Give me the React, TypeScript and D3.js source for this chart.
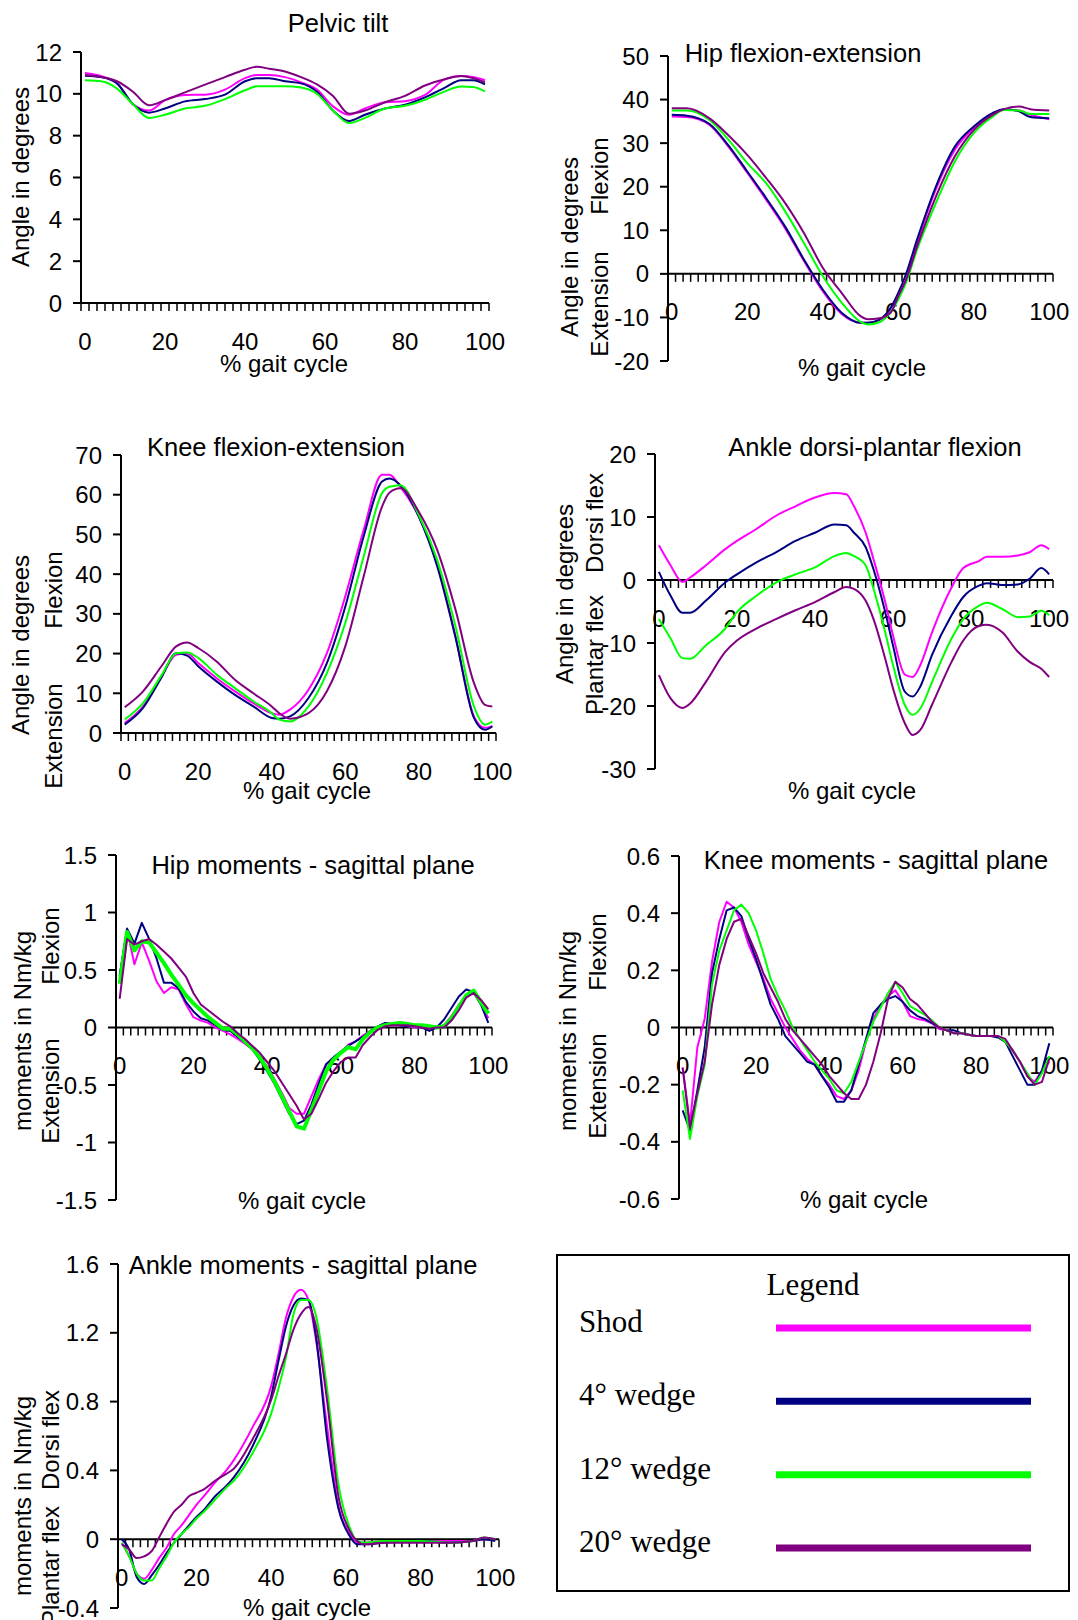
import React from 'react';
import * as d3 from 'd3';

// ---------- Legend / series ----------
const seriesNames = ['Shod', '4\u00b0 wedge', '12\u00b0 wedge', '20\u00b0 wedge'];
const seriesColors = ['#ff00ff', '#000080', '#00ff00', '#800080'];
const xTickLabels = [0, 20, 40, 60, 80, 100];

// ---------- Pelvic tilt ----------
const pelvicX = [0, 4, 8, 12, 16, 20, 25, 30, 35, 40, 43, 46, 50, 54, 58, 62, 66, 70, 75, 80, 85, 90, 94, 97, 100];
const pelvicShod = [11.0, 10.85, 10.5, 9.5, 9.2, 9.7, 9.95, 9.96, 10.2, 10.75, 10.9, 10.9, 10.8, 10.55, 10.2, 9.4, 9.0, 9.3, 9.6, 9.65, 9.95, 10.7, 10.85, 10.8, 10.65];
const pelvic4 = [10.87, 10.8, 10.5, 9.5, 9.1, 9.3, 9.64, 9.75, 9.96, 10.6, 10.75, 10.75, 10.6, 10.5, 10.1, 9.2, 8.7, 9.0, 9.3, 9.48, 9.83, 10.3, 10.65, 10.65, 10.45];
const pelvic12 = [10.65, 10.6, 10.25, 9.5, 8.85, 9.0, 9.3, 9.43, 9.75, 10.17, 10.36, 10.36, 10.36, 10.3, 10.0, 9.2, 8.6, 8.85, 9.3, 9.43, 9.72, 10.12, 10.35, 10.33, 10.12];
const pelvic20 = [10.9, 10.8, 10.6, 10.1, 9.45, 9.7, 10.07, 10.44, 10.8, 11.15, 11.3, 11.2, 11.07, 10.8, 10.45, 9.9, 9.05, 9.2, 9.6, 9.9, 10.4, 10.7, 10.85, 10.75, 10.55];
const pelvicTicks = [0, 2, 4, 6, 8, 10, 12];

// ---------- Hip flexion-extension ----------
const hipX = [0, 4, 10, 15, 20, 25, 30, 35, 40, 45, 50, 52, 55, 58, 60, 62, 65, 70, 75, 80, 85, 88, 92, 95, 100];
const hipShod = [36.1, 36.0, 34.2, 29.2, 23.2, 17.0, 10.5, 3.0, -4.0, -9.2, -11.2, -11.2, -10.6, -8.5, -5.5, -1.5, 7.2, 19.5, 28.5, 33.5, 36.8, 37.7, 37.5, 36.5, 35.5];
const hip4 = [36.5, 36.3, 34.4, 29.5, 23.5, 17.4, 10.9, 3.3, -3.6, -8.9, -11.2, -11.2, -10.5, -7.8, -4.4, -0.2, 7.9, 20.1, 29.2, 33.8, 36.9, 37.8, 37.3, 36.0, 35.7];
const hip12 = [37.5, 37.5, 35.3, 30.8, 25.4, 20.8, 14.4, 7.1, -0.5, -6.6, -11.0, -11.6, -11.1, -8.8, -5.9, -2.1, 5.6, 16.3, 25.8, 32.3, 36.1, 37.6, 37.5, 36.7, 36.7];
const hip20 = [38.0, 38.0, 35.7, 31.8, 27.3, 22.0, 16.3, 9.4, 1.4, -4.35, -9.7, -10.4, -10.2, -8.9, -5.1, -1.5, 6.3, 17.8, 27.0, 33.0, 36.5, 37.8, 38.4, 37.8, 37.5];
const hipTicks = [-20, -10, 0, 10, 20, 30, 40, 50];

// ---------- Knee flexion-extension ----------
const kneeX = [0, 5, 10, 14, 17, 20, 25, 30, 35, 40, 42, 45, 50, 55, 60, 65, 70, 72, 75, 80, 85, 90, 95, 98, 100];
const kneeShod = [2.5, 6.7, 14.2, 19.7, 20.0, 17.6, 13.8, 10.5, 7.5, 5.0, 4.6, 5.9, 10.9, 20.1, 34.4, 51.1, 65.0, 65.0, 62.0, 54.5, 42.7, 24.3, 4.2, 1.3, 1.7];
const knee4 = [2.1, 6.3, 14.0, 20.1, 19.5, 16.8, 13.0, 9.6, 6.7, 3.8, 3.6, 4.2, 8.8, 17.6, 31.8, 49.5, 63.3, 64.1, 62.4, 54.5, 42.0, 24.0, 3.8, 0.8, 1.7];
const knee12 = [3.4, 7.5, 14.5, 20.1, 20.3, 18.9, 14.7, 11.3, 8.0, 5.0, 3.4, 2.9, 6.7, 15.1, 27.7, 44.4, 60.4, 62.0, 62.4, 54.9, 43.6, 26.8, 6.7, 2.1, 2.9];
const knee20 = [6.5, 10.5, 16.8, 21.8, 22.8, 21.4, 18.0, 13.4, 10.0, 6.7, 5.0, 3.6, 5.0, 10.5, 21.8, 39.4, 57.0, 60.5, 61.6, 55.7, 46.1, 31.0, 12.6, 7.1, 6.7];
const kneeTicks = [0, 10, 20, 30, 40, 50, 60, 70];

// ---------- Ankle dorsi-plantar flexion ----------
const ankleX = [0, 3, 6, 8, 12, 17, 20, 25, 30, 35, 40, 45, 48, 50, 53, 55, 58, 60, 63, 65, 67, 70, 75, 78, 82, 84, 88, 92, 95, 98, 100];
const ankleShod = [5.5, 2.3, -0.3, 0.4, 2.3, 4.9, 6.2, 8.1, 10.2, 11.7, 13.1, 13.8, 13.6, 11.7, 7.5, 3.3, -3.5, -8.8, -15.0, -15.4, -13.5, -8.3, -1.2, 1.9, 3.0, 3.7, 3.7, 3.9, 4.4, 5.5, 4.9];
const ankle4 = [1.3, -2.5, -5.2, -5.2, -3.3, -0.4, 0.9, 2.8, 4.4, 6.2, 7.5, 8.8, 8.7, 7.5, 5.2, 1.7, -5.1, -10.4, -17.7, -18.5, -16.9, -11.9, -5.6, -2.7, -0.9, -0.5, -0.8, -0.7, 0.2, 1.9, 0.9];
const ankle12 = [-6.2, -9.3, -12.4, -12.5, -10.4, -7.7, -5.1, -2.5, -0.4, 0.9, 2.0, 3.8, 4.3, 3.8, 2.3, -1.4, -8.3, -13.5, -19.8, -21.4, -20.4, -16.2, -9.3, -6.2, -4.1, -3.6, -4.6, -5.9, -5.8, -4.9, -5.6];
const ankle20 = [-15.1, -18.8, -20.3, -19.6, -16.2, -11.4, -9.6, -7.7, -6.2, -4.8, -3.5, -1.9, -1.1, -1.4, -3.3, -6.2, -12.5, -17.2, -22.7, -24.6, -23.8, -19.8, -13.0, -9.6, -7.3, -7.1, -8.3, -11.4, -13.0, -14.1, -15.4];
const ankleTicks = [-30, -20, -10, 0, 10, 20];

// ---------- Hip moments ----------
const hipMomX = [0, 2, 4, 6, 8, 10, 12, 14, 16, 18, 20, 22, 24, 26, 28, 30, 32, 34, 36, 38, 40, 42, 44, 46, 48, 50, 52, 54, 56, 58, 60, 62, 64, 66, 68, 70, 72, 74, 76, 78, 80, 82, 84, 86, 88, 90, 92, 94, 96, 98, 100];
const hipMomShod = [0.45, 0.85, 0.55, 0.74, 0.58, 0.40, 0.30, 0.35, 0.33, 0.20, 0.09, 0.06, 0.04, 0.00, -0.03, -0.06, -0.10, -0.14, -0.19, -0.26, -0.34, -0.45, -0.57, -0.70, -0.75, -0.75, -0.60, -0.45, -0.32, -0.27, -0.22, -0.15, -0.12, -0.07, -0.03, 0.00, 0.02, 0.02, 0.02, 0.01, 0.00, 0.00, -0.01, 0.00, 0.02, 0.10, 0.20, 0.27, 0.30, 0.20, 0.08];
const hipMom4 = [0.45, 0.86, 0.73, 0.91, 0.77, 0.60, 0.39, 0.39, 0.34, 0.22, 0.14, 0.08, 0.06, 0.02, -0.02, -0.03, -0.08, -0.13, -0.19, -0.28, -0.38, -0.49, -0.62, -0.75, -0.84, -0.81, -0.67, -0.49, -0.32, -0.26, -0.21, -0.16, -0.12, -0.08, -0.03, 0.01, 0.04, 0.03, 0.02, 0.01, 0.01, 0.00, -0.03, 0.00, 0.07, 0.17, 0.27, 0.33, 0.31, 0.20, 0.04];
const hipMom12 = [0.38, 0.83, 0.67, 0.75, 0.74, 0.65, 0.56, 0.46, 0.37, 0.28, 0.21, 0.15, 0.09, 0.04, -0.01, -0.01, -0.06, -0.12, -0.18, -0.26, -0.36, -0.47, -0.60, -0.73, -0.86, -0.88, -0.72, -0.55, -0.38, -0.28, -0.22, -0.17, -0.19, -0.10, -0.04, 0.00, 0.02, 0.03, 0.04, 0.03, 0.02, 0.02, 0.01, 0.00, 0.01, 0.08, 0.18, 0.28, 0.32, 0.22, 0.12];
const hipMom20 = [0.25, 0.77, 0.72, 0.75, 0.77, 0.72, 0.66, 0.60, 0.52, 0.44, 0.30, 0.20, 0.15, 0.10, 0.05, 0.01, -0.05, -0.10, -0.16, -0.22, -0.30, -0.38, -0.48, -0.58, -0.68, -0.80, -0.75, -0.62, -0.48, -0.38, -0.30, -0.26, -0.26, -0.15, -0.08, -0.02, 0.01, 0.02, 0.02, 0.02, 0.01, 0.00, -0.01, 0.00, 0.00, 0.06, 0.15, 0.26, 0.30, 0.24, 0.16];
const hipMomTicks = [-1.5, -1, -0.5, 0, 0.5, 1, 1.5];

// ---------- Knee moments ----------
const kneeMomX = hipMomX;
const kneeMomShod = [-0.14, -0.34, -0.07, 0.03, 0.23, 0.37, 0.44, 0.42, 0.37, 0.29, 0.23, 0.17, 0.10, 0.05, 0.00, -0.04, -0.08, -0.11, -0.13, -0.17, -0.20, -0.24, -0.25, -0.22, -0.15, -0.05, 0.03, 0.08, 0.11, 0.13, 0.09, 0.04, 0.03, 0.025, 0.015, -0.005, -0.01, -0.02, -0.02, -0.025, -0.03, -0.03, -0.03, -0.03, -0.05, -0.08, -0.12, -0.17, -0.19, -0.15, -0.12];
const kneeMom4 = [-0.29, -0.36, -0.22, -0.07, 0.19, 0.31, 0.41, 0.42, 0.39, 0.31, 0.24, 0.16, 0.08, 0.03, -0.03, -0.06, -0.09, -0.12, -0.13, -0.17, -0.21, -0.26, -0.26, -0.22, -0.13, -0.04, 0.05, 0.08, 0.10, 0.11, 0.09, 0.06, 0.04, 0.03, 0.015, 0.00, -0.01, -0.01, -0.02, -0.025, -0.03, -0.03, -0.03, -0.035, -0.05, -0.10, -0.15, -0.20, -0.20, -0.15, -0.055];
const kneeMom12 = [-0.22, -0.39, -0.24, -0.13, 0.15, 0.27, 0.34, 0.41, 0.43, 0.40, 0.34, 0.26, 0.17, 0.11, 0.06, 0.00, -0.04, -0.08, -0.12, -0.15, -0.18, -0.22, -0.23, -0.19, -0.12, -0.05, 0.02, 0.07, 0.12, 0.16, 0.12, 0.075, 0.06, 0.045, 0.025, 0.00, -0.01, -0.02, -0.02, -0.025, -0.03, -0.03, -0.03, -0.03, -0.05, -0.08, -0.12, -0.16, -0.20, -0.16, -0.10];
const kneeMom20 = [-0.14, -0.35, -0.23, -0.12, 0.08, 0.22, 0.31, 0.37, 0.38, 0.32, 0.26, 0.19, 0.14, 0.09, 0.03, -0.01, -0.04, -0.07, -0.10, -0.13, -0.17, -0.20, -0.23, -0.25, -0.25, -0.20, -0.12, -0.02, 0.10, 0.16, 0.14, 0.10, 0.08, 0.05, 0.02, 0.00, -0.01, -0.02, -0.02, -0.025, -0.03, -0.03, -0.03, -0.03, -0.04, -0.08, -0.12, -0.17, -0.20, -0.19, -0.11];
const kneeMomTicks = [-0.6, -0.4, -0.2, 0, 0.2, 0.4, 0.6];

// ---------- Ankle moments ----------
const ankleMomX = [0, 2, 4, 6, 8, 10, 12, 14, 16, 18, 20, 22, 25, 28, 30, 35, 40, 42, 44, 46, 48, 50, 52, 55, 58, 61, 63, 65, 70, 80, 88, 94, 97, 100];
const ankleMomShod = [-0.02, -0.10, -0.20, -0.23, -0.18, -0.11, -0.05, 0.03, 0.08, 0.14, 0.20, 0.25, 0.33, 0.40, 0.46, 0.65, 0.89, 1.08, 1.29, 1.41, 1.45, 1.39, 1.16, 0.65, 0.19, 0.03, -0.02, -0.02, -0.01, -0.01, -0.01, -0.01, 0.00, 0.00];
const ankleMom4 = [0.00, -0.06, -0.22, -0.26, -0.21, -0.15, -0.08, -0.02, 0.03, 0.08, 0.13, 0.17, 0.25, 0.31, 0.36, 0.54, 0.83, 1.04, 1.24, 1.36, 1.40, 1.39, 1.18, 0.58, 0.18, 0.02, -0.03, -0.03, -0.02, -0.01, -0.02, -0.01, 0.00, -0.01];
const ankleMom12 = [-0.02, -0.10, -0.20, -0.24, -0.24, -0.17, -0.10, -0.02, 0.03, 0.07, 0.12, 0.16, 0.23, 0.30, 0.34, 0.50, 0.73, 0.88, 1.06, 1.31, 1.39, 1.39, 1.30, 0.87, 0.32, 0.07, -0.01, -0.02, -0.01, -0.01, -0.02, -0.01, 0.01, 0.00];
const ankleMom20 = [-0.03, -0.06, -0.11, -0.10, -0.07, 0.01, 0.09, 0.16, 0.20, 0.25, 0.27, 0.29, 0.34, 0.38, 0.41, 0.58, 0.81, 0.95, 1.08, 1.22, 1.31, 1.35, 1.24, 0.80, 0.25, 0.05, -0.01, -0.03, -0.02, -0.02, -0.02, -0.01, 0.01, 0.00];
const ankleMomTicks = [-0.4, 0, 0.4, 0.8, 1.2, 1.6];

// ---------- Layout ----------
type Sub = { text: string; x: number; y: number };
type PanelCfg = {
  title: string; titleX: number; titleY: number;
  x0: number; x1: number; yTop: number; yBot: number;
  yDomain: [number, number]; yTicks: number[];
  xs: number[]; series: number[][];
  yLabel: string; yLabelX: number; yLabelY: number;
  subs: Sub[];
  xTitleX: number; xTitleY: number;
  smooth: boolean; widths?: number[];
};

const panels: PanelCfg[] = [
  {
    title: 'Pelvic tilt', titleX: 338, titleY: 23, x0: 81, x1: 489, yTop: 52, yBot: 303,
    yDomain: [0, 12], yTicks: pelvicTicks, xs: pelvicX, series: [pelvicShod, pelvic4, pelvic12, pelvic20],
    yLabel: 'Angle in degrees', yLabelX: 20, yLabelY: 177, subs: [], xTitleX: 284, xTitleY: 363, smooth: true,
  },
  {
    title: 'Hip flexion-extension', titleX: 803, titleY: 53, x0: 668, x1: 1053, yTop: 56, yBot: 361,
    yDomain: [-20, 50], yTicks: hipTicks, xs: hipX, series: [hipShod, hip4, hip12, hip20],
    yLabel: 'Angle in degrees', yLabelX: 569, yLabelY: 247,
    subs: [{ text: 'Flexion', x: 599, y: 176 }, { text: 'Extension', x: 599, y: 304 }],
    xTitleX: 862, xTitleY: 367, smooth: true,
  },
  {
    title: 'Knee flexion-extension', titleX: 276, titleY: 447, x0: 121, x1: 496, yTop: 455, yBot: 733,
    yDomain: [0, 70], yTicks: kneeTicks, xs: kneeX, series: [kneeShod, knee4, knee12, knee20],
    yLabel: 'Angle in degrees', yLabelX: 20, yLabelY: 645,
    subs: [{ text: 'Flexion', x: 53, y: 590 }, { text: 'Extension', x: 53, y: 736 }],
    xTitleX: 307, xTitleY: 790, smooth: true,
  },
  {
    title: 'Ankle dorsi-plantar flexion', titleX: 875, titleY: 447, x0: 655, x1: 1053, yTop: 454, yBot: 769,
    yDomain: [-30, 20], yTicks: ankleTicks, xs: ankleX, series: [ankleShod, ankle4, ankle12, ankle20],
    yLabel: 'Angle in degrees', yLabelX: 564, yLabelY: 594,
    subs: [{ text: 'Dorsi flex', x: 594, y: 523 }, { text: 'Plantar flex', x: 594, y: 655 }],
    xTitleX: 852, xTitleY: 790, smooth: true,
  },
  {
    title: 'Hip moments - sagittal plane', titleX: 313, titleY: 865, x0: 116, x1: 492, yTop: 855, yBot: 1200,
    yDomain: [-1.5, 1.5], yTicks: hipMomTicks, xs: hipMomX, series: [hipMomShod, hipMom4, hipMom12, hipMom20],
    yLabel: 'moments in Nm/kg', yLabelX: 22, yLabelY: 1031,
    subs: [{ text: 'Flexion', x: 50, y: 946 }, { text: 'Extension', x: 50, y: 1091 }],
    xTitleX: 302, xTitleY: 1200, smooth: false, widths: [2, 2, 4, 2],
  },
  {
    title: 'Knee moments - sagittal plane', titleX: 876, titleY: 860, x0: 679, x1: 1053, yTop: 856, yBot: 1199,
    yDomain: [-0.6, 0.6], yTicks: kneeMomTicks, xs: kneeMomX, series: [kneeMomShod, kneeMom4, kneeMom12, kneeMom20],
    yLabel: 'moments in Nm/kg', yLabelX: 567, yLabelY: 1031,
    subs: [{ text: 'Flexion', x: 597, y: 952 }, { text: 'Extension', x: 597, y: 1086 }],
    xTitleX: 864, xTitleY: 1199, smooth: false,
  },
  {
    title: 'Ankle moments - sagittal plane', titleX: 303, titleY: 1265, x0: 118, x1: 499, yTop: 1264, yBot: 1608,
    yDomain: [-0.4, 1.6], yTicks: ankleMomTicks, xs: ankleMomX, series: [ankleMomShod, ankleMom4, ankleMom12, ankleMom20],
    yLabel: 'moments in Nm/kg', yLabelX: 22, yLabelY: 1496,
    subs: [{ text: 'Dorsi flex', x: 50, y: 1440 }, { text: 'Plantar flex', x: 50, y: 1566 }],
    xTitleX: 307, xTitleY: 1607, smooth: true,
  },
];

const FONT = '"Liberation Sans", Arial, sans-serif';
const SERIF = '"Liberation Serif", "Times New Roman", serif';
const FS = 24;
const TITLE_FS = 25.5;

function Panel({ cfg }: { cfg: PanelCfg }) {
  const x = d3.scaleLinear().domain([-1, 101]).range([cfg.x0, cfg.x1]);
  const y = d3.scaleLinear().domain(cfg.yDomain).range([cfg.yBot, cfg.yTop]);
  const y0 = y(0);
  const tickIdx = d3.range(52);
  const line = d3.line<number>()
    .x((_, i) => x(cfg.xs[i]))
    .y((d) => y(d))
    .curve(cfg.smooth ? d3.curveMonotoneX : d3.curveLinear);
  return (
    <g>
      <text x={cfg.titleX} y={cfg.titleY} textAnchor="middle" dominantBaseline="central" fontSize={TITLE_FS} fontFamily={FONT}>{cfg.title}</text>
      <line x1={cfg.x0} x2={cfg.x0} y1={cfg.yTop} y2={cfg.yBot} stroke="#000" strokeWidth={2} />
      {cfg.yTicks.map((t) => (
        <g key={'yt' + t}>
          <line x1={cfg.x0 - 8} x2={cfg.x0} y1={y(t)} y2={y(t)} stroke="#000" strokeWidth={2} />
          <text x={cfg.x0 - 19} y={y(t)} textAnchor="end" dominantBaseline="central" fontSize={FS} fontFamily={FONT}>{String(t)}</text>
        </g>
      ))}
      <line x1={cfg.x0} x2={cfg.x1} y1={y0} y2={y0} stroke="#000" strokeWidth={2} />
      {tickIdx.map((k) => (
        <line key={'xt' + k} x1={x(-1 + 2 * k)} x2={x(-1 + 2 * k)} y1={y0} y2={y0 + 8} stroke="#000" strokeWidth={1.5} />
      ))}
      {xTickLabels.map((t) => (
        <text key={'xl' + t} x={x(t)} y={y0 + 38} textAnchor="middle" dominantBaseline="central" fontSize={FS} fontFamily={FONT}>{t}</text>
      ))}
      <text x={cfg.xTitleX} y={cfg.xTitleY} textAnchor="middle" dominantBaseline="central" fontSize={FS} fontFamily={FONT}>% gait cycle</text>
      <text transform={`translate(${cfg.yLabelX},${cfg.yLabelY}) rotate(-90)`} textAnchor="middle" dominantBaseline="central" fontSize={FS} fontFamily={FONT}>{cfg.yLabel}</text>
      {cfg.subs.map((s) => (
        <text key={s.text} transform={`translate(${s.x},${s.y}) rotate(-90)`} textAnchor="middle" dominantBaseline="central" fontSize={FS} fontFamily={FONT}>{s.text}</text>
      ))}
      {cfg.series.map((s, i) => (
        <path key={'s' + i} d={line(s) || ''} fill="none" stroke={seriesColors[i]} strokeWidth={cfg.widths ? cfg.widths[i] : 2} strokeLinejoin="round" />
      ))}
    </g>
  );
}

function Legend() {
  const rowY = d3.scaleLinear().domain([0, 3]).range([1329, 1549]);
  return (
    <g>
      <rect x={557} y={1255} width={512} height={336} fill="none" stroke="#000" strokeWidth={2} />
      <text x={813} y={1295} textAnchor="middle" fontSize={31} fontFamily={SERIF}>Legend</text>
      {seriesNames.map((n, i) => (
        <g key={n}>
          <text x={579} y={rowY(i) + 3} fontSize={31} fontFamily={SERIF}>{n}</text>
          <line x1={776} x2={1031} y1={rowY(i) - 1} y2={rowY(i) - 1} stroke={seriesColors[i]} strokeWidth={7} />
        </g>
      ))}
    </g>
  );
}

export default function App() {
  return (
    <svg width={1078} height={1620} style={{ position: 'absolute', left: 0, top: 0, background: '#fff' }}>
      <rect x={0} y={0} width={1078} height={1620} fill="#fff" />
      {panels.map((p) => <Panel key={p.title} cfg={p} />)}
      <Legend />
    </svg>
  );
}
